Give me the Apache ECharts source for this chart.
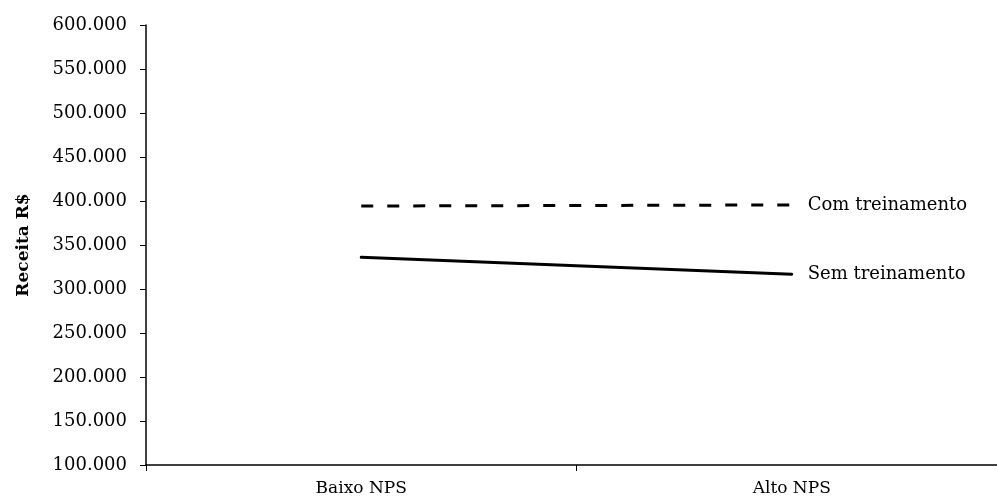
<!DOCTYPE html>
<html>
<head>
<meta charset="utf-8">
<script src="https://cdn.jsdelivr.net/npm/echarts@6/dist/echarts.min.js"></script>
<style>html,body{margin:0;padding:0;background:#fff}#c{width:997px;height:502px}</style>
</head>
<body>
<div id="c"></div>
<script>
var categories = ['Baixo NPS', 'Alto NPS'];
var comTreinamento = [394300, 395500];
var semTreinamento = [336000, 316700];
var seriesNames = ['Com treinamento', 'Sem treinamento'];
var yAxisName = 'Receita R$';

var FONT = 'DejaVu Serif';
function fmt(v) {
  return String(v).replace(/\B(?=(\d{3})+(?!\d))/g, '.');
}
var chart = echarts.init(document.getElementById('c'), null, {renderer: 'canvas'});
chart.setOption({
  animation: false,
  backgroundColor: '#fff',
  grid: {left: 146, top: 25, bottom: 37, right: -10, containLabel: false, outerBoundsMode: 'none'},
  xAxis: {
    type: 'category',
    data: categories,
    boundaryGap: true,
    axisLine: {lineStyle: {color: '#000', width: 1.5}},
    axisTick: {show: true, length: 6, lineStyle: {color: '#000', width: 1}},
    axisLabel: {color: '#000', fontFamily: FONT, fontSize: 17, margin: 15}
  },
  yAxis: {
    type: 'value',
    min: 100000, max: 600000, interval: 50000,
    name: yAxisName,
    nameLocation: 'middle',
    nameGap: 114,
    nameTextStyle: {color: '#000', fontFamily: FONT, fontSize: 17, fontWeight: 'bold'},
    axisLine: {show: true, lineStyle: {color: '#000', width: 1.5}},
    axisTick: {show: true, length: 6, lineStyle: {color: '#000', width: 1}},
    splitLine: {show: false},
    axisLabel: {color: '#000', fontFamily: FONT, fontSize: 18, margin: 19, formatter: fmt}
  },
  series: [
    {
      name: seriesNames[0], type: 'line', data: comTreinamento,
      symbol: 'none',
      lineStyle: {color: '#000', width: 3, type: [12, 14]},
      endLabel: {show: true, formatter: '{a}', color: '#000', fontFamily: FONT, fontSize: 18, distance: 16}
    },
    {
      name: seriesNames[1], type: 'line', data: semTreinamento,
      symbol: 'none',
      lineStyle: {color: '#000', width: 3, cap: 'round'},
      endLabel: {show: true, formatter: '{a}', color: '#000', fontFamily: FONT, fontSize: 18, distance: 16}
    }
  ]
});
</script>
</body>
</html>
